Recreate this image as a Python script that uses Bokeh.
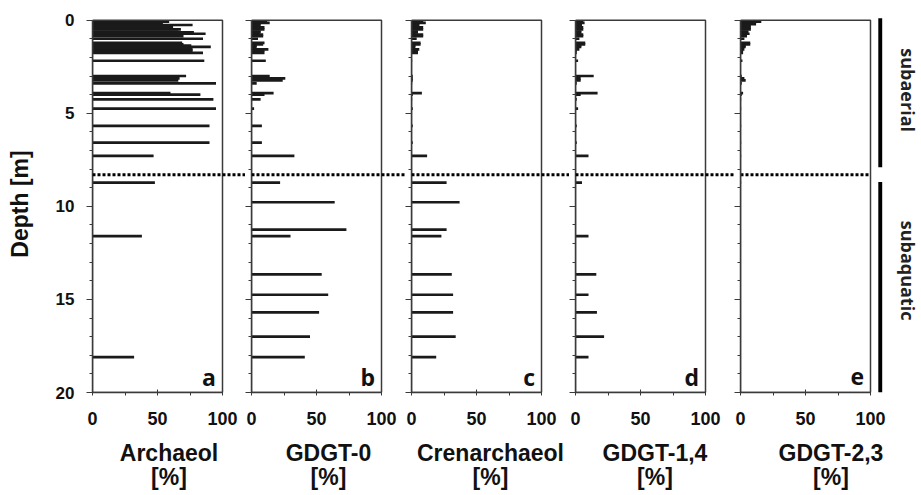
import math
from bokeh.plotting import figure
from bokeh.layouts import row
from bokeh.models import Range1d, FixedTicker, BoxAnnotation, Span, ColumnDataSource
from bokeh.embed import file_html
from bokeh.resources import INLINE
from bokeh.core.properties import value

# ---------------- data ----------------
depth = [0.08, 0.15, 0.22, 0.26, 0.39, 0.49, 0.61, 0.66, 0.73, 0.78, 0.86, 1.0,
         1.22, 1.3, 1.37, 1.44, 1.57, 1.64, 1.76, 2.18, 3.0, 3.13, 3.23, 3.4,
         3.92, 4.0, 4.25, 4.75, 5.68, 6.58, 7.29, 8.73, 9.78, 11.25, 11.6,
         13.65, 14.75, 15.7, 17.0, 18.1]

archaeol = [59, 54, 54, 77, 62, 68, 66, 78, 87, 65, 70, 85, 69, 70, 76, 91, 77, 77,
            85, 86, 72, 67, 66, 95, 60, 83, 93, 95, 90, 90, 47, 48, 0, 0, 38, 0, 0,
            0, 0, 32]
gdgt0 = [12, 14, 7, 7, 10, 10, 7, 7, 6, 9, 9, 5, 10, 9, 4, 4, 13, 10, 10, 11, 14,
         26, 24, 4, 17, 10, 7, 2, 8, 8, 33, 22, 64, 73, 30, 54, 59, 52, 45, 41]
crenarchaeol = [9, 11, 6, 6, 9, 9, 5, 5, 3, 9, 9, 4, 7, 7, 3, 3, 6, 5, 5, 0.5, 1, 1,
                1, 0.5, 8, 1, 0.5, 1, 1, 1, 12, 27, 37, 27, 23, 31, 32, 32, 34, 19]
gdgt14 = [6, 7, 5, 5, 6, 6, 4.5, 4.5, 4, 6, 6, 3, 7.5, 7.5, 4.5, 4.5, 3, 1, 1, 2, 14,
          4, 4, 1, 17, 4, 1, 2, 1, 1, 10, 5, 0, 0, 10, 16, 10, 16.5, 22, 10]
gdgt23 = [16, 12, 12, 8, 8, 8, 6, 6, 7, 5, 5, 3, 7.5, 7.5, 4, 4, 3, 2, 2, 1.5, 1, 3,
          4, 1, 2, 1, 0.5, 0.5, 0.5, 0.5, 0.5, 0.5, 0, 0, 0, 0, 0, 0, 0, 0]

panel_names = ["Archaeol", "GDGT-0", "Crenarchaeol", "GDGT-1,4", "GDGT-2,3"]
panel_letters = ["a", "b", "c", "d", "e"]

x_ticks = [0, 50, 100]
x_minor = [25, 75]
y_ticks = [0, 5, 10, 15, 20]
y_minor = list(range(0, 21))

boundary_depth = 8.3
zone_names = ["subaerial", "subaquatic"]
zone_top = [-0.1, 8.7]
zone_bottom = [7.9, 20.0]
zone_label_depth = [3.76, 13.45]

# ---------------- layout ----------------
PX = 1.30                      # pixels per percent unit
widths = [245, 160, 164, 165, 187]
borders_left = [92, 6, 6, 6, 6]
H = 495
B_TOP, B_BOTTOM = 15, 103

AX_FONT = "Liberation Sans"
TXT = "#111111"
LINE = "#3a3a3a"
BAR = "#1a1a1a"

src = ColumnDataSource(dict(depth=depth, a=archaeol, b=gdgt0, c=crenarchaeol,
                            d=gdgt14, e=gdgt23))
cols = ["a", "b", "c", "d", "e"]

figs = []
for i in range(5):
    fw = widths[i] - borders_left[i]
    x_end = fw / PX
    p = figure(width=widths[i], height=H, output_backend="svg", toolbar_location=None,
               x_range=Range1d(0, x_end), y_range=Range1d(20, -0.25),
               min_border_left=borders_left[i], min_border_right=0,
               min_border_top=B_TOP, min_border_bottom=B_BOTTOM,
               outline_line_color=None, background_fill_color="white",
               border_fill_color="white")
    p.xgrid.visible = False
    p.ygrid.visible = False

    # bars
    p.hbar(y="depth", left=0, right=cols[i], height=0.145, source=src,
           fill_color=BAR, line_color=None)

    # panel frame
    p.add_layout(BoxAnnotation(left=0, right=100, top=0, bottom=20, fill_color=None,
                               fill_alpha=0, line_color=LINE, line_alpha=1.0,
                               line_width=1.5))

    # boundary line
    if i < 4:
        p.add_layout(Span(location=boundary_depth, dimension="width", line_color="black",
                          line_width=3, line_dash="3 2"))
    else:
        p.segment(x0=[0], x1=[100], y0=[boundary_depth], y1=[boundary_depth],
                  line_color="black", line_width=3, line_dash="3 2")

    # panel letter
    p.text(x=[95], y=[19.15], text=[panel_letters[i]], text_align="right",
           text_baseline="alphabetic", text_font=value("Open Sans"),
           text_font_style="bold", text_font_size="23px", text_color=TXT)

    # x axis
    xa = p.xaxis[0]
    xa.bounds = (0, 100)
    xa.ticker = FixedTicker(ticks=x_ticks, minor_ticks=x_minor)
    xa.axis_line_color = LINE
    xa.axis_line_width = 1.5
    xa.major_tick_line_color = LINE
    xa.minor_tick_line_color = LINE
    xa.major_tick_in = 3
    xa.major_tick_out = 3
    xa.minor_tick_in = 0
    xa.minor_tick_out = 3
    xa.major_label_standoff = 16
    xa.major_label_text_font = AX_FONT
    xa.major_label_text_font_style = "bold"
    xa.major_label_text_font_size = "18px"
    xa.major_label_text_color = TXT
    xa.axis_label = panel_names[i] + "\n[%]"
    xa.axis_label_standoff = 12
    xa.axis_label_text_font = AX_FONT
    xa.axis_label_text_font_style = "bold"
    xa.axis_label_text_font_size = "23px"
    xa.axis_label_text_color = TXT
    xa.axis_label_text_line_height = 0.95

    # y axis
    ya = p.yaxis[0]
    ya.bounds = (0, 20)
    ya.ticker = FixedTicker(ticks=y_ticks, minor_ticks=y_minor)
    ya.axis_line_color = LINE
    ya.axis_line_width = 1.5
    ya.major_tick_line_color = LINE
    ya.minor_tick_line_color = LINE
    ya.major_tick_in = 0
    ya.major_tick_out = 6
    ya.minor_tick_in = 0
    ya.minor_tick_out = 3
    if i == 0:
        ya.major_label_standoff = 12
        ya.major_label_text_font = AX_FONT
        ya.major_label_text_font_style = "bold"
        ya.major_label_text_font_size = "17px"
        ya.major_label_text_color = TXT
        ya.axis_label = "Depth [m]"
        ya.axis_label_standoff = 20
        ya.axis_label_text_font = AX_FONT
        ya.axis_label_text_font_style = "bold"
        ya.axis_label_text_font_size = "23px"
        ya.axis_label_text_color = TXT
    else:
        ya.major_label_standoff = 0
        ya.major_label_text_font_size = "0px"
        ya.major_label_text_color = None

    if i == 4:
        zsrc = ColumnDataSource(dict(name=zone_names, top=zone_top, bottom=zone_bottom,
                                     mid=zone_label_depth))
        p.quad(left=106, right=109, top="top", bottom="bottom", source=zsrc,
               fill_color="black", line_color=None)
        p.text(x=129, y="mid", text="name", source=zsrc, angle=-math.pi / 2,
               text_align="center", text_baseline="middle",
               text_font=value("Open Sans"), text_font_style="bold",
               text_font_size="18px", text_color="#222222")
    figs.append(p)

layout = row(*figs, spacing=0)
open("out.html", "w").write(file_html(layout, INLINE))
